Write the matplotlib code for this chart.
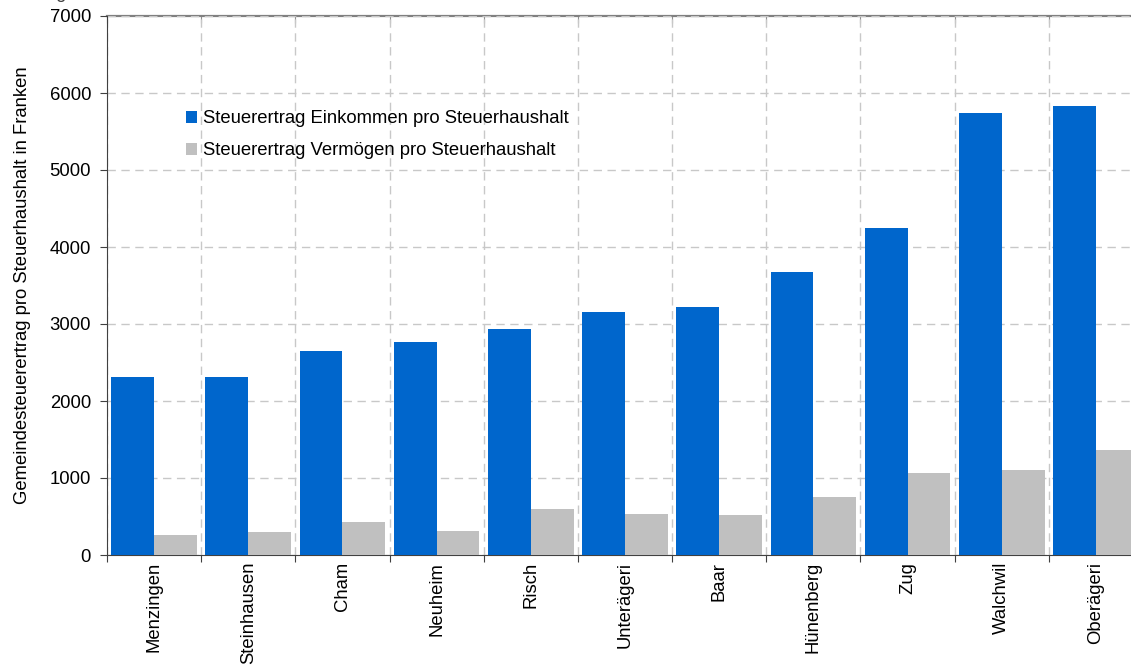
import matplotlib.pyplot as plt
import numpy as np

plt.rcParams['font.family'] = ['Liberation Sans', 'DejaVu Sans']

gemeinden = ['Menzingen', 'Steinhausen', 'Cham', 'Neuheim', 'Risch', 'Unterägeri',
             'Baar', 'Hünenberg', 'Zug', 'Walchwil', 'Oberägeri']
einkommen = [2310, 2310, 2650, 2770, 2940, 3150, 3220, 3680, 4250, 5745, 5825]
vermoegen = [260, 300, 430, 310, 600, 535, 520, 755, 1065, 1105, 1365]

blau = '#0066CC'
grau = '#C0C0C0'
fs = 13.3

fig = plt.figure(figsize=(11.31, 6.69), dpi=100)
# the plot area runs a little past the right edge of the picture
ax = fig.add_axes([107 / 1131, 114 / 669, 1036 / 1131, 539 / 669])

x = np.arange(len(gemeinden))
w = 0.455
ax.bar(x - w / 2, einkommen, w, color=blau, zorder=3,
       label='Steuerertrag Einkommen pro Steuerhaushalt')
ax.bar(x + w / 2, vermoegen, w, color=grau, zorder=3,
       label='Steuerertrag Vermögen pro Steuerhaushalt')

ax.set_xlim(-0.5, len(gemeinden) - 0.5)
ax.set_ylim(0, 7000)
ax.set_yticks(range(0, 7001, 1000))

# category boundaries carry the ticks and vertical grid lines
ax.set_xticks(np.arange(-0.5, len(gemeinden), 1.0))
ax.set_xticklabels([])
ax.set_xticks(x, minor=True)
ax.set_xticklabels(gemeinden, minor=True, rotation=90, fontsize=fs)
ax.tick_params(axis='x', which='minor', length=0, pad=5)
ax.tick_params(axis='x', which='major', direction='out', length=5, color='#404040')
ax.tick_params(axis='y', direction='out', length=5, color='#404040', labelsize=fs, pad=6.5)

top = ax.secondary_xaxis('top')
top.set_xticks(np.arange(-0.5, len(gemeinden), 1.0))
top.set_xticklabels([])
top.tick_params(direction='in', length=5, color='#909090')
top.spines['top'].set_color('#808080')
top.spines['top'].set_linewidth(1.6)

ax.grid(True, which='major', color='#C8C8C8', linestyle=(0, (6, 4)), linewidth=1, zorder=0)

for s in ['left', 'bottom']:
    ax.spines[s].set_color('#404040')
ax.spines['top'].set_visible(False)
ax.spines['right'].set_visible(False)

ax.set_ylabel('Gemeindesteuerertrag pro Steuerhaushalt in Franken', fontsize=fs, labelpad=13)

ax.legend(loc='upper left', bbox_to_anchor=(177 / 1131, 1 - 101 / 669),
          bbox_transform=fig.transFigure, frameon=False, fontsize=fs,
          handlelength=0.6, handleheight=0.6, handletextpad=0.3, labelspacing=0.82,
          borderpad=0)

# title text that is cut off at the top of the picture
fig.text(67 / 1131, 1 + 2 / 669, 'Steuerertrag', ha='right', va='baseline',
         fontsize=fs, color='#404040')

fig.savefig('out.png', dpi=100)
